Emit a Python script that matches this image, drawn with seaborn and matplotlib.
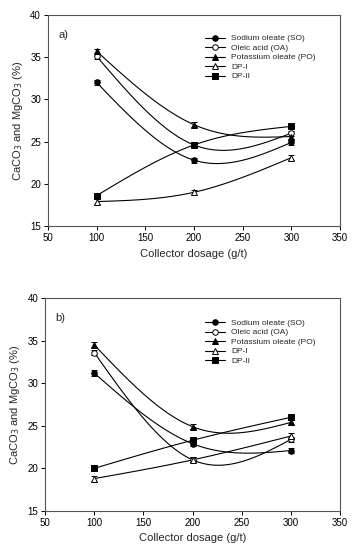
import numpy as np
import matplotlib
matplotlib.use("Agg")
import matplotlib.pyplot as plt
import seaborn as sns
import pandas as pd

dosage = [100, 200, 300]
series = ["Sodium oleate (SO)", "Oleic acid (OA)", "Potassium oleate (PO)", "DP-I", "DP-II"]

# Panel a)
a_SO = [32.0, 22.8, 24.9]
a_OA = [35.1, 24.6, 26.0]
a_PO = [35.7, 27.0, 25.6]
a_DP1 = [17.9, 19.0, 23.1]
a_DP2 = [18.6, 24.6, 26.8]
a_err = [0.3, 0.3, 0.3]

# Panel b)
b_SO = [31.2, 22.9, 22.1]
b_OA = [33.6, 21.0, 23.4]
b_PO = [34.5, 24.9, 25.4]
b_DP1 = [18.8, 21.0, 23.8]
b_DP2 = [20.0, 23.3, 26.0]
b_err = [0.3, 0.3, 0.3]

markers = ["o", "o", "^", "^", "s"]
facecolors = ["black", "white", "black", "white", "black"]

sns.set_theme(style="ticks")
plt.rcParams["font.family"] = ["Liberation Sans", "DejaVu Sans"]

fig = plt.figure(figsize=(3.55, 5.5), dpi=100)
ax_a = fig.add_axes([0.135, 0.589, 0.823, 0.384])
ax_b = fig.add_axes([0.127, 0.071, 0.831, 0.387])


def natural_spline(x, y, n=60):
    """Natural cubic spline through equally spaced points (smooth connector)."""
    x = np.asarray(x, float)
    y = np.asarray(y, float)
    k = len(x)
    h = np.diff(x)
    A = np.zeros((k, k))
    r = np.zeros(k)
    A[0, 0] = A[-1, -1] = 1
    for i in range(1, k - 1):
        A[i, i - 1] = h[i - 1]
        A[i, i] = 2 * (h[i - 1] + h[i])
        A[i, i + 1] = h[i]
        r[i] = 6 * ((y[i + 1] - y[i]) / h[i] - (y[i] - y[i - 1]) / h[i - 1])
    M = np.linalg.solve(A, r)
    xs, ys = [], []
    for i in range(k - 1):
        t = np.linspace(x[i], x[i + 1], n)
        a = (x[i + 1] - t) / h[i]
        b = (t - x[i]) / h[i]
        s = (a * y[i] + b * y[i + 1]
             + ((a ** 3 - a) * M[i] + (b ** 3 - b) * M[i + 1]) * h[i] ** 2 / 6)
        xs.append(t)
        ys.append(s)
    return np.concatenate(xs), np.concatenate(ys)


def draw(ax, data, err, label, leg_x, leg_y):
    for name, vals, m, fc in zip(series, data, markers, facecolors):
        xs, ys = natural_spline(dosage, vals)
        df = pd.DataFrame({"x": xs, "y": ys})
        sns.lineplot(data=df, x="x", y="y", ax=ax, color="black", lw=0.8,
                     legend=False, zorder=2, sort=False)
        ax.errorbar(dosage, vals, yerr=err, fmt=m, ms=4, mfc=fc, mec="black",
                    mew=0.7, ecolor="black", elinewidth=0.7, capsize=2,
                    capthick=0.7, zorder=3)
        ax.plot([], [], marker=m, ms=4, mfc=fc, mec="black", mew=0.7,
                color="black", lw=0.8, label=name)
    ax.set_xlim(50, 350)
    ax.set_ylim(15, 40)
    ax.set_xticks([50, 100, 150, 200, 250, 300, 350])
    ax.set_yticks([15, 20, 25, 30, 35, 40])
    ax.tick_params(direction="out", length=3, width=0.7, labelsize=7,
                   colors="black", pad=2)
    for s in ax.spines.values():
        s.set_color("#555555")
        s.set_linewidth(0.8)
    ax.set_xlabel("Collector dosage (g/t)", fontsize=8, labelpad=4)
    ax.set_ylabel("CaCO$_3$ and MgCO$_3$ (%)", fontsize=8, labelpad=4)
    ax.text(0.035, 0.905, label, transform=ax.transAxes, fontsize=8, va="center")
    ax.legend(loc="upper left", bbox_to_anchor=(leg_x, leg_y), frameon=False,
              fontsize=6, handlelength=2.4, handletextpad=0.72,
              labelspacing=0.2, borderaxespad=0)


draw(ax_a, [a_SO, a_OA, a_PO, a_DP1, a_DP2], a_err, "a)", 0.526, 0.922)
draw(ax_b, [b_SO, b_OA, b_PO, b_DP1, b_DP2], b_err, "b)", 0.531, 0.917)

fig.savefig("out.png", dpi=100)
